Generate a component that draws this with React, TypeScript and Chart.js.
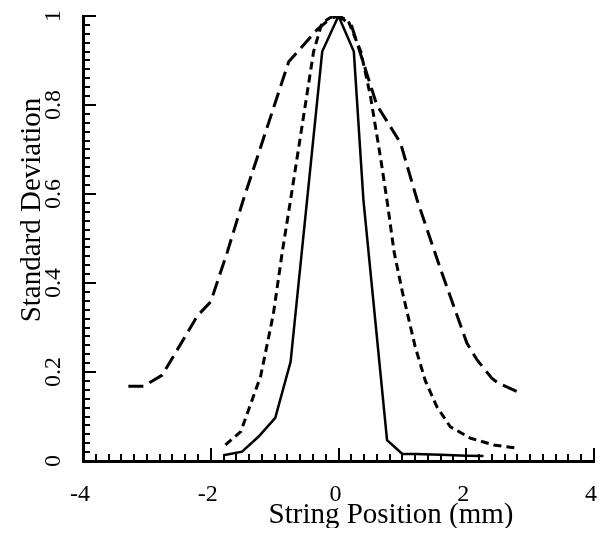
import React, { useEffect, useRef } from "react";
import { Chart, registerables } from "chart.js";

Chart.register(...registerables);

// ---- data ----
const solidX = [-1.8, -1.51, -1.25, -0.99, -0.75, -0.255, 0, 0.24, 0.39, 0.76, 1.0, 1.2, 1.6, 2.0, 2.27];
const solidY = [0.013, 0.021, 0.055, 0.097, 0.223, 0.92, 1.0, 0.92, 0.587, 0.047, 0.016, 0.016, 0.014, 0.012, 0.011];

const shortDashX = [-1.77, -1.53, -1.22, -1.02, -0.88, -0.75, -0.39, -0.26, -0.12, 0, 0.15, 0.35, 0.5, 0.66, 0.77, 0.87, 1.0, 1.2, 1.36, 1.54, 1.75, 2.07, 2.43, 2.8];
const shortDashY = [0.036, 0.066, 0.19, 0.33, 0.47, 0.587, 0.92, 0.984, 0.997, 1.0, 0.99, 0.92, 0.82, 0.68, 0.575, 0.47, 0.38, 0.257, 0.18, 0.122, 0.077, 0.051, 0.036, 0.029];

const longDashX = [-3.29, -3.05, -2.76, -2.21, -2.0, -1.74, -1.49, -0.78, -0.33, -0.12, 0, 0.2, 0.6, 0.97, 1.23, 1.6, 2.01, 2.17, 2.4, 2.5, 2.8];
const longDashY = [0.168, 0.168, 0.193, 0.326, 0.358, 0.47, 0.587, 0.897, 0.97, 0.995, 1.0, 0.98, 0.8, 0.715, 0.587, 0.43, 0.265, 0.227, 0.186, 0.175, 0.156];

const xTicks = [-4, -2, 0, 2, 4];
const yTicks = [0, 0.2, 0.4, 0.6, 0.8, 1];
const xMinorStep = 0.2;
const yMinorStep = 0.02;

const xTitle = "String Position (mm)";
const yTitle = "Standard Deviation";

const SERIF = '"Liberation Serif", "Times New Roman", serif';

function pts(xs: number[], ys: number[]) {
  return xs.map((x, i) => ({ x, y: ys[i] }));
}

const decorPlugin = {
  id: "decor",
  afterDraw(chart: any) {
    const { ctx } = chart;
    const x = chart.scales.x;
    const y = chart.scales.y;
    ctx.save();
    ctx.strokeStyle = "#000";
    ctx.lineWidth = 2;
    ctx.beginPath();
    const xMin = xTicks[0];
    const xMax = xTicks[xTicks.length - 1];
    const nx = Math.round((xMax - xMin) / xMinorStep);
    for (let i = 0; i <= nx; i++) {
      const v = xMin + i * xMinorStep;
      const px = Math.round(x.getPixelForValue(v));
      const len = i % 10 === 0 ? 13 : 7;
      ctx.moveTo(px, y.bottom);
      ctx.lineTo(px, y.bottom - len);
    }
    const yMin = yTicks[0];
    const yMax = yTicks[yTicks.length - 1];
    const ny = Math.round((yMax - yMin) / yMinorStep);
    for (let i = 0; i <= ny; i++) {
      const v = yMin + i * yMinorStep;
      const py = Math.round(y.getPixelForValue(v));
      const len = i % 10 === 0 ? 13 : 7;
      ctx.moveTo(x.left, py);
      ctx.lineTo(x.left + len, py);
    }
    ctx.stroke();

    // axis titles
    ctx.fillStyle = "#000";
    ctx.font = `29px ${SERIF}`;
    ctx.textAlign = "center";
    ctx.textBaseline = "alphabetic";
    ctx.fillText(xTitle, 383, 515);
    ctx.translate(32, 202);
    ctx.rotate(-Math.PI / 2);
    ctx.fillText(yTitle, 0, 0);
    ctx.restore();
  },
};

export default function App() {
  const ref = useRef<HTMLCanvasElement | null>(null);
  useEffect(() => {
    if (!ref.current) return;
    const chart = new Chart(ref.current, {
      type: "line",
      data: {
        datasets: [
          {
            data: pts(longDashX, longDashY),
            borderColor: "#000",
            borderWidth: 3,
            borderDash: [15, 7],
            pointRadius: 0,
            tension: 0,
          },
          {
            data: pts(shortDashX, shortDashY),
            borderColor: "#000",
            borderWidth: 3,
            borderDash: [8, 5],
            pointRadius: 0,
            tension: 0,
          },
          {
            data: pts(solidX, solidY),
            borderColor: "#000",
            borderWidth: 2.5,
            pointRadius: 0,
            tension: 0,
          },
        ],
      },
      options: {
        animation: false,
        responsive: true,
        maintainAspectRatio: false,
        layout: { padding: { top: 8, right: 5, left: 0, bottom: 0 } },
        plugins: { legend: { display: false }, tooltip: { enabled: false } },
        scales: {
          x: {
            type: "linear",
            min: xTicks[0],
            max: xTicks[xTicks.length - 1],
            afterBuildTicks: (s: any) => {
              s.ticks = xTicks.map((v) => ({ value: v }));
            },
            afterFit: (s: any) => {
              s.height = 75;
              s.paddingLeft = 0;
              s.paddingRight = 0;
            },
            grid: { display: false, drawTicks: false, tickLength: 0 },
            border: { display: true, width: 3, color: "#000" },
            ticks: {
              color: "#000",
              font: { family: SERIF, size: 24 },
              padding: 19,
              labelOffset: -3,
              autoSkip: false,
              maxRotation: 0,
              callback: (v: any) => String(v),
            },
          },
          y: {
            type: "linear",
            min: yTicks[0],
            max: yTicks[yTicks.length - 1],
            afterBuildTicks: (s: any) => {
              s.ticks = yTicks.map((v) => ({ value: v }));
            },
            afterFit: (s: any) => {
              s.width = 75;
              s.paddingTop = 0;
              s.paddingBottom = 0;
            },
            grid: { display: false, drawTicks: false, tickLength: 0 },
            border: { display: true, width: 3, color: "#000" },
            ticks: {
              color: "#000",
              font: { family: SERIF, size: 24 },
              padding: 14,
              minRotation: 90,
              maxRotation: 90,
              crossAlign: "center",
              autoSkip: false,
              callback: (v: any) => String(Math.round(v * 100) / 100),
            },
          },
        },
      },
      plugins: [decorPlugin],
    } as any);
    return () => chart.destroy();
  }, []);
  return (
    <div style={{ position: "relative", height: 528, marginBottom: -8 }}>
      <canvas ref={ref} />
    </div>
  );
}
